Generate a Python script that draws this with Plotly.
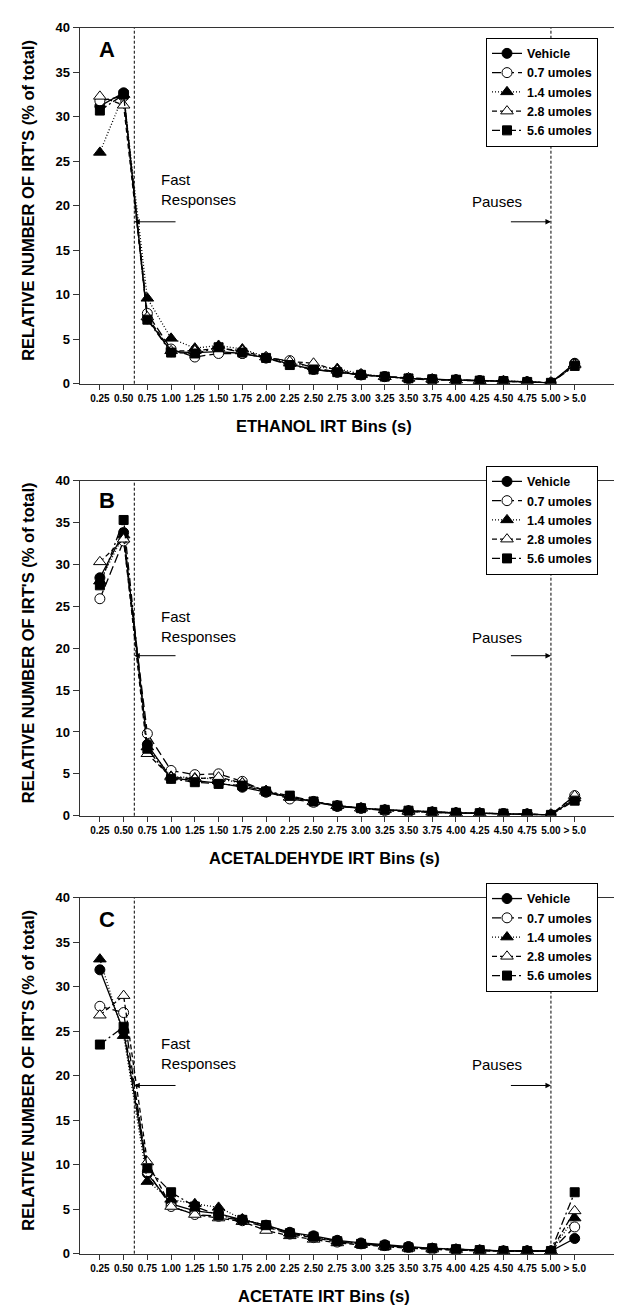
import plotly.graph_objects as go

# ---------------- data ----------------
categories = ["0.25", "0.50", "0.75", "1.00", "1.25", "1.50", "1.75", "2.00", "2.25", "2.50",
              "2.75", "3.00", "3.25", "3.50", "3.75", "4.00", "4.25", "4.50", "4.75", "5.00", "> 5.0"]
series_names = ["Vehicle", "0.7 umoles", "1.4 umoles", "2.8 umoles", "5.6 umoles"]

ethanol_vehicle = [31.2, 32.7, 7.3, 3.6, 3.5, 3.6, 3.4, 2.9, 2.2, 1.6, 1.3, 1.0, 0.8, 0.6, 0.5, 0.45, 0.35, 0.3, 0.2, 0.1, 2.3]
ethanol_07 = [31.8, 32.3, 7.9, 3.9, 3.0, 3.4, 3.4, 2.9, 2.6, 1.8, 1.3, 1.0, 0.8, 0.6, 0.4, 0.4, 0.3, 0.25, 0.2, 0.1, 2.2]
ethanol_14 = [26.0, 32.5, 9.6, 5.1, 4.0, 4.3, 3.9, 3.0, 2.3, 1.9, 1.7, 1.1, 0.8, 0.6, 0.5, 0.4, 0.35, 0.3, 0.25, 0.1, 2.2]
ethanol_28 = [32.3, 31.3, 7.5, 3.7, 3.7, 4.0, 3.7, 3.0, 2.5, 2.3, 1.5, 1.0, 0.8, 0.65, 0.5, 0.4, 0.35, 0.3, 0.2, 0.1, 2.1]
ethanol_56 = [30.7, 32.5, 7.2, 3.5, 3.4, 4.1, 3.5, 2.9, 2.1, 1.6, 1.3, 1.0, 0.8, 0.6, 0.5, 0.45, 0.35, 0.3, 0.2, 0.1, 2.0]

acetaldehyde_vehicle = [28.4, 33.8, 8.5, 4.5, 4.2, 3.9, 3.4, 2.8, 2.2, 1.7, 1.1, 0.9, 0.7, 0.6, 0.45, 0.35, 0.3, 0.25, 0.2, 0.1, 2.0]
acetaldehyde_07 = [25.9, 32.8, 9.8, 5.4, 4.9, 5.0, 4.1, 2.9, 2.0, 1.6, 1.2, 0.9, 0.6, 0.5, 0.4, 0.3, 0.3, 0.25, 0.2, 0.1, 2.4]
acetaldehyde_14 = [28.0, 33.5, 8.2, 4.7, 4.5, 4.4, 3.9, 3.0, 2.2, 1.7, 1.2, 0.9, 0.7, 0.6, 0.45, 0.35, 0.3, 0.25, 0.2, 0.1, 2.1]
acetaldehyde_28 = [30.3, 33.0, 7.4, 4.6, 4.4, 4.6, 3.9, 2.9, 2.2, 1.7, 1.2, 0.9, 0.7, 0.5, 0.4, 0.3, 0.3, 0.2, 0.2, 0.1, 2.4]
acetaldehyde_56 = [27.5, 35.3, 8.0, 4.4, 4.0, 3.8, 3.6, 2.9, 2.4, 1.7, 1.2, 0.9, 0.7, 0.6, 0.45, 0.35, 0.3, 0.25, 0.2, 0.1, 1.8]

acetate_vehicle = [31.9, 25.0, 9.0, 5.6, 4.8, 4.5, 3.8, 3.2, 2.4, 2.0, 1.5, 1.2, 1.0, 0.8, 0.6, 0.5, 0.4, 0.3, 0.3, 0.3, 1.7]
acetate_07 = [27.8, 27.1, 9.2, 5.3, 4.4, 4.2, 3.7, 3.0, 2.2, 1.8, 1.3, 1.1, 0.9, 0.7, 0.5, 0.4, 0.35, 0.3, 0.3, 0.3, 3.0]
acetate_14 = [33.1, 24.5, 8.1, 6.1, 5.6, 5.2, 3.9, 3.1, 2.3, 1.9, 1.4, 1.1, 0.9, 0.7, 0.6, 0.5, 0.4, 0.3, 0.3, 0.3, 4.0]
acetate_28 = [26.8, 29.0, 10.3, 5.3, 4.4, 4.0, 3.6, 2.6, 2.0, 1.6, 1.2, 1.0, 0.8, 0.6, 0.5, 0.4, 0.3, 0.3, 0.3, 0.3, 4.8]
acetate_56 = [23.5, 25.5, 9.6, 6.9, 5.3, 4.3, 3.8, 3.2, 2.3, 1.9, 1.4, 1.1, 0.9, 0.7, 0.6, 0.5, 0.4, 0.3, 0.3, 0.3, 6.9]

panel_letters = ["A", "B", "C"]
x_titles = ["ETHANOL IRT Bins (s)", "ACETALDEHYDE IRT Bins (s)", "ACETATE IRT Bins (s)"]
y_title = "RELATIVE NUMBER OF IRT'S (% of total)"
y_ticks = [0, 5, 10, 15, 20, 25, 30, 35, 40]
fast_boundary = 1.45   # between 0.50 and 0.75 bins
pause_boundary = 19    # at the 5.00 bin

panels = [
    [ethanol_vehicle, ethanol_07, ethanol_14, ethanol_28, ethanol_56],
    [acetaldehyde_vehicle, acetaldehyde_07, acetaldehyde_14, acetaldehyde_28, acetaldehyde_56],
    [acetate_vehicle, acetate_07, acetate_14, acetate_28, acetate_56],
]

# ---------------- styles ----------------
W, H = 622, 1309
FONT = "Liberation Sans, Arial, Helvetica, sans-serif"
styles = [
    dict(symbol="circle", fill="black", dash="solid", size=10),
    dict(symbol="circle", fill="white", dash="9px,4px", size=10),
    dict(symbol="triangle-up", fill="black", dash="1px,2px", size=11),
    dict(symbol="triangle-up", fill="white", dash="5px,3px", size=11),
    dict(symbol="square", fill="black", dash="8px,3px,2px,3px", size=9),
]

# pixel layout of each panel (top, bottom of plot area) and legend top
panel_px = [(13, 373), (471, 810), (893, 1253)]
legend_top_px = [23, 456, 878]
x_left_px = 71.7


def py(px):
    return 1 - px / H


fig = go.Figure()
annotations = []
shapes = []
layout_axes = {}

for p, data in enumerate(panels):
    n = "" if p == 0 else str(p + 1)
    xa, ya = "x" + n, "y" + n
    leg = "legend" + n
    for s, vals in enumerate(data):
        st = styles[s]
        fig.add_trace(go.Scatter(
            x=categories, y=vals, name=series_names[s], mode="lines+markers",
            xaxis=xa, yaxis=ya, legend=leg,
            line=dict(color="black", width=1.3, dash=st["dash"]),
            marker=dict(symbol=st["symbol"], size=st["size"], color=st["fill"],
                        line=dict(color="black", width=1)),
        ))
    top, bot = panel_px[p]
    layout_axes["xaxis" + n] = dict(
        type="category", domain=[x_left_px / W, 1], anchor=ya,
        range=[-0.85, 22.33], showline=True, linecolor="#333", linewidth=1.2,
        mirror=True, ticks="outside", ticklen=5, tickcolor="#333",
        tickfont=dict(size=10, family=FONT, color="black", weight="bold"),
        showgrid=False, zeroline=False,
    )
    layout_axes["yaxis" + n] = dict(
        domain=[py(bot), py(top)], anchor=xa, range=[0, 40], tickvals=y_ticks,
        showline=True, linecolor="#333", linewidth=1.2, ticks="outside", ticklen=6,
        tickcolor="#333", tickfont=dict(size=13, family=FONT, color="black", weight="bold"),
        showgrid=False, zeroline=False,
    )
    layout_axes[leg] = dict(
        x=478 / W, y=py(legend_top_px[p]), xanchor="left", yanchor="top",
        bordercolor="black", borderwidth=1, bgcolor="white",
        font=dict(size=12.5, family=FONT, color="black", weight="bold"),
        itemwidth=30, tracegroupgap=0,
    )
    # boundary lines
    for xb in (fast_boundary, pause_boundary):
        shapes.append(dict(type="line", xref=xa, yref=ya + " domain", x0=xb, x1=xb, y0=0, y1=1,
                           line=dict(color="black", width=1, dash="3px,2px"), layer="below"))
    arrow_y = [18.2, 19.1, 18.9][p]
    text_y = [21.8, 22.6, 22.5][p]
    pause_y = [20.5, 21.3, 21.3][p]
    annotations += [
        dict(x=fast_boundary, y=arrow_y, ax=3.25, ay=arrow_y, xref=xa, yref=ya, axref=xa, ayref=ya,
             showarrow=True, arrowhead=2, arrowsize=1.1, arrowwidth=1, arrowcolor="black", text=""),
        dict(x=pause_boundary, y=arrow_y, ax=17.25, ay=arrow_y, xref=xa, yref=ya, axref=xa, ayref=ya,
             showarrow=True, arrowhead=2, arrowsize=1.1, arrowwidth=1, arrowcolor="black", text=""),
        dict(x=2.5, y=text_y, xref=xa, yref=ya, text="Fast<br>Responses", showarrow=False,
             xanchor="left", yanchor="middle", align="left",
             font=dict(size=15, family=FONT, color="black")),
        dict(x=15.6, y=pause_y, xref=xa, yref=ya, text="Pauses", showarrow=False,
             xanchor="left", yanchor="middle", font=dict(size=15, family=FONT, color="black")),
        dict(x=0.3, y=37.6, xref=xa, yref=ya, text="<b>" + panel_letters[p] + "</b>", showarrow=False,
             xanchor="center", yanchor="middle", font=dict(size=22, family=FONT, color="black")),
        dict(x=316 / W, y=py(bot + 43), xref="paper", yref="paper", text="<b>" + x_titles[p] + "</b>",
             showarrow=False, xanchor="center", yanchor="middle",
             font=dict(size=16.5, family=FONT, color="black")),
        dict(x=20 / W, y=py((top + bot) / 2 - 5), xref="paper", yref="paper", text="<b>" + y_title + "</b>",
             showarrow=False, textangle=-90, xanchor="center", yanchor="middle",
             font=dict(size=16.5, family=FONT, color="black")),
    ]

fig.update_layout(
    width=W, height=H, margin=dict(l=0, r=0, t=0, b=0),
    paper_bgcolor="white", plot_bgcolor="white",
    showlegend=True, annotations=annotations, shapes=shapes,
    font=dict(family=FONT, color="black"),
    **layout_axes,
)

fig.write_html("out.html")
